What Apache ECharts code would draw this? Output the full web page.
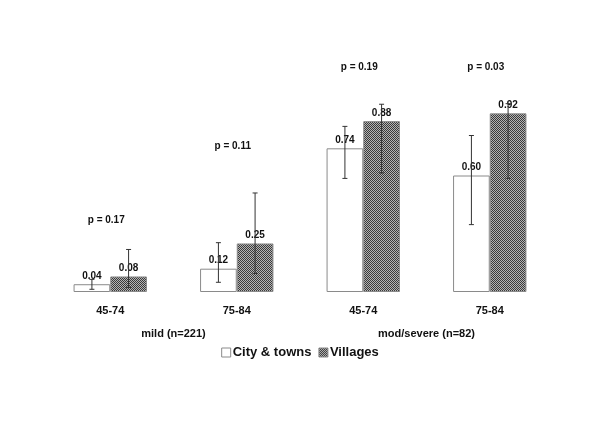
<!DOCTYPE html>
<html>
<head>
<meta charset="utf-8">
<script src="https://cdn.jsdelivr.net/npm/echarts@6/dist/echarts.min.js"></script>
<style>
  html, body { margin: 0; padding: 0; background: #fff; }
  #chart { width: 600px; height: 423px; }
</style>
</head>
<body>
<div id="chart"></div>
<script>
// data
var ageGroups = ["45-74", "75-84", "45-74", "75-84"];
var severity = ["mild (n=221)", "mod/severe (n=82)"];
var cityValues = [0.04, 0.12, 0.74, 0.60];
var villageValues = [0.08, 0.25, 0.88, 0.92];
var cityLow = [0.014, 0.05, 0.585, 0.347];
var cityHigh = [0.065, 0.254, 0.853, 0.806];
var villageLow = [0.024, 0.095, 0.613, 0.585];
var villageHigh = [0.219, 0.51, 0.967, 0.97];
var pValues = ["0.17", "0.11", "0.19", "0.03"];
var pAt = [0.37, 0.75, 1.16, 1.16];

var GAP = 0.42; // barCategoryGap

// dither pattern for villages
var pat = document.createElement("canvas");
pat.width = 2;
pat.height = 2;
var pctx = pat.getContext("2d");
pctx.fillStyle = "#b4b4b4";
pctx.fillRect(0, 0, 2, 2);
pctx.fillStyle = "#3a3a3a";
pctx.fillRect(0, 0, 1, 1);
pctx.fillRect(1, 1, 1, 1);
var villColor = { image: pat, repeat: "repeat" };

var errData = [];
for (var i = 0; i < ageGroups.length; i++) {
  errData.push([i, cityLow[i], cityHigh[i], 0]);
  errData.push([i, villageLow[i], villageHigh[i], 1]);
}
var pData = [];
for (var j = 0; j < pValues.length; j++) {
  pData.push({ value: [j, pAt[j]], name: pValues[j] });
}

function renderErr(params, api) {
  var cat = api.value(0);
  var side = api.value(3);
  var bw = (api.size([1, 0])[0] * (1 - GAP)) / 2;
  var x = api.coord([cat, 0])[0] + (side ? bw / 2 : -bw / 2);
  var yl = api.coord([cat, api.value(1)])[1];
  var yh = api.coord([cat, api.value(2)])[1];
  var cap = 2.5;
  var st = { stroke: "#333", lineWidth: 1 };
  return {
    type: "group",
    children: [
      { type: "line", shape: { x1: x, y1: yl, x2: x, y2: yh }, style: st },
      { type: "line", shape: { x1: x - cap, y1: yl, x2: x + cap, y2: yl }, style: st },
      { type: "line", shape: { x1: x - cap, y1: yh, x2: x + cap, y2: yh }, style: st },
    ],
  };
}

var chart = echarts.init(document.getElementById("chart"));
var labelStyle = {
  show: true,
  position: "top",
  distance: 3,
  fontFamily: "Liberation Sans",
  fontWeight: "bold",
  fontSize: 10,
  color: "#111",
  formatter: function (p) { return p.value.toFixed(2); },
};
var option = {
  animation: false,
  backgroundColor: "#fff",
  textStyle: { fontFamily: "Liberation Sans" },
  legend: {
    data: ["City & towns", "Villages"],
    left: "center",
    top: 341,
    itemWidth: 9,
    itemHeight: 9,
    itemGap: 7,
    icon: "rect",
    itemStyle: { borderWidth: 1 },
    textStyle: { fontSize: 13, fontWeight: "bold", color: "#111", padding: [0, 0, 0, -3] },
  },
  grid: { left: 47, right: 47, top: 59, bottom: 131 },
  xAxis: [
    {
      type: "category",
      data: ageGroups,
      axisLine: { show: false },
      axisTick: { show: false },
      axisLabel: { margin: 13, fontSize: 11, fontWeight: "bold", color: "#111" },
    },
    {
      type: "category",
      data: severity,
      position: "bottom",
      axisLine: { show: false },
      axisTick: { show: false },
      axisLabel: { margin: 36, fontSize: 11, fontWeight: "bold", color: "#111" },
    },
  ],
  yAxis: {
    type: "value",
    min: 0,
    max: 1.2,
    show: false,
    splitLine: { show: false },
  },
  series: [
    {
      name: "City & towns",
      type: "bar",
      data: cityValues,
      barGap: "0%",
      barCategoryGap: GAP * 100 + "%",
      itemStyle: { color: "#fff", borderColor: "#8a8a8a", borderWidth: 1 },
      label: labelStyle,
    },
    {
      name: "Villages",
      type: "bar",
      data: villageValues,
      itemStyle: { color: villColor, borderColor: "#8a8a8a", borderWidth: 1 },
      label: labelStyle,
    },
    {
      type: "custom",
      renderItem: renderErr,
      data: errData,
      z: 5,
      silent: true,
    },
    {
      type: "scatter",
      data: pData,
      symbolSize: 0,
      silent: true,
      itemStyle: { opacity: 1 },
      label: {
        show: true,
        position: "inside",
        offset: [-4, 0],
        fontFamily: "Liberation Sans",
        fontWeight: "bold",
        fontSize: 10,
        color: "#111",
        formatter: function (p) { return "p = " + p.name; },
      },
    },
  ],
};
chart.setOption(option);
</script>
</body>
</html>
